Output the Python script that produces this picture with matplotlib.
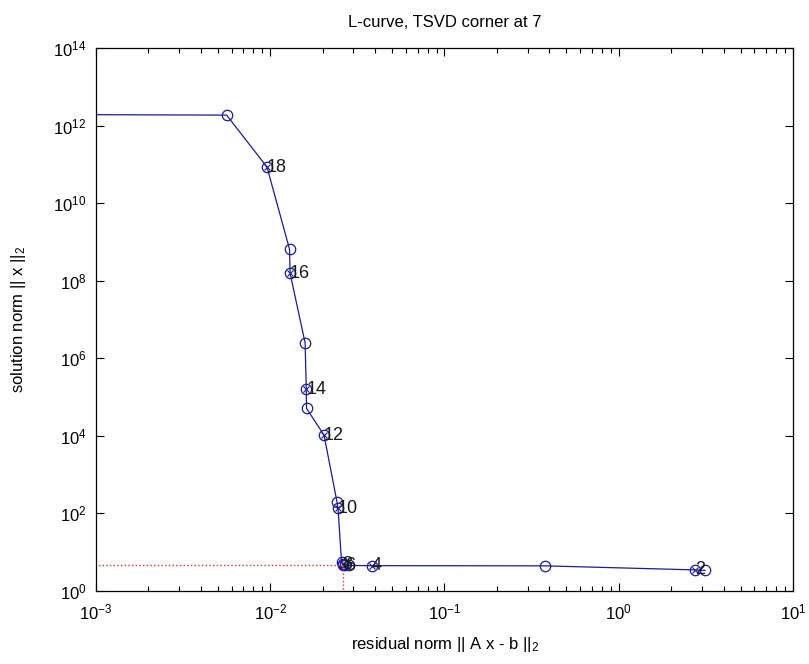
import matplotlib
matplotlib.use("Agg")
import matplotlib.pyplot as plt
from matplotlib.ticker import FixedLocator, FuncFormatter, NullFormatter
import numpy as np

plt.rcParams['font.family'] = ['Liberation Sans', 'DejaVu Sans']
plt.rcParams['mathtext.fontset'] = 'custom'
plt.rcParams['mathtext.rm'] = 'Liberation Sans'
plt.rcParams['mathtext.it'] = 'Liberation Sans'
plt.rcParams['mathtext.bf'] = 'Liberation Sans'

# TSVD truncation parameter k and L-curve values
k_values = list(range(1, 21))
residual_norm = [3.13, 2.74, 0.377, 0.0382, 0.0283, 0.0270, 0.02616, 0.0260,
                 0.02565, 0.02449, 0.02415, 0.02035, 0.01615, 0.0161, 0.01585,
                 0.0130, 0.0129, 0.00958, 0.00562, 1e-5]
solution_norm = [3.4, 3.5, 4.45, 4.5, 4.55, 4.6, 4.68, 4.9, 5.5, 135, 199,
                 1.05e4, 5.1e4, 1.6e5, 2.5e6, 1.55e8, 6.5e8, 8.5e10, 1.86e12, 2.04e12]
labeled_k = [2, 4, 6, 8, 10, 12, 14, 16, 18]
corner_k = 7

x_ticks = [1e-3, 1e-2, 1e-1, 1e0, 1e1]
y_ticks = [1e0, 1e2, 1e4, 1e6, 1e8, 1e10, 1e12, 1e14]

line_color = '#1c1c94'

fig = plt.figure(figsize=(8.09, 6.64), dpi=100)
ax = fig.add_axes([96/809, 1-591/664, (793-96)/809, (591-48)/664])

ax.plot(residual_norm, solution_norm, '-', color=line_color, lw=0.9,
        marker='o', ms=7.5, mfc='none', mec=line_color, mew=0.9)

idx = [k_values.index(k) for k in labeled_k]
ax.plot([residual_norm[i] for i in idx], [solution_norm[i] for i in idx], 'x',
        color=line_color, ms=5, mew=0.8)
for i in idx:
    ax.text(residual_norm[i], solution_norm[i], str(k_values[i]), ha='left',
            va='center', fontsize=13, color='#1a1a1a')

ci = k_values.index(corner_k)
rc, ec = residual_norm[ci], solution_norm[ci]
ax.plot([min(residual_norm)/100, rc], [ec, ec], ':', color='#e03030', lw=1.0)
ax.plot([rc, rc], [min(solution_norm)/100, ec], ':', color='#e03030', lw=1.0)

ax.set_xscale('log')
ax.set_yscale('log')
ax.set_xlim(x_ticks[0], x_ticks[-1])
ax.set_ylim(y_ticks[0], y_ticks[-1])

fmt = FuncFormatter(lambda v, p: r'$10^{%d}$' % int(round(np.log10(v))))
ax.xaxis.set_major_locator(FixedLocator(x_ticks))
ax.yaxis.set_major_locator(FixedLocator(y_ticks))
ax.xaxis.set_major_formatter(fmt)
ax.yaxis.set_major_formatter(fmt)
minors = [m * 10.0**e for e in range(-3, 1) for m in range(2, 10)]
ax.xaxis.set_minor_locator(FixedLocator(minors))
ax.xaxis.set_minor_formatter(NullFormatter())
ax.yaxis.set_minor_locator(FixedLocator([]))

ax.tick_params(which='both', direction='in', top=True, right=True, labelsize=12,
               color='black')
ax.tick_params(which='major', length=6, width=0.8)
ax.tick_params(axis='x', which='major', pad=8)
ax.tick_params(axis='y', which='major', pad=7)
ax.tick_params(which='minor', length=3.5, width=0.8)
for s in ax.spines.values():
    s.set_linewidth(0.9)

ax.set_title('L-curve, TSVD corner at 7', fontsize=12, pad=15)
ax.set_xlabel(r'residual norm || A x - b |$|_2$', fontsize=12, labelpad=9)
ax.set_ylabel(r'solution norm || x |$|_2$', fontsize=12, labelpad=18)

fig.savefig('out.png', dpi=100, facecolor='white')
